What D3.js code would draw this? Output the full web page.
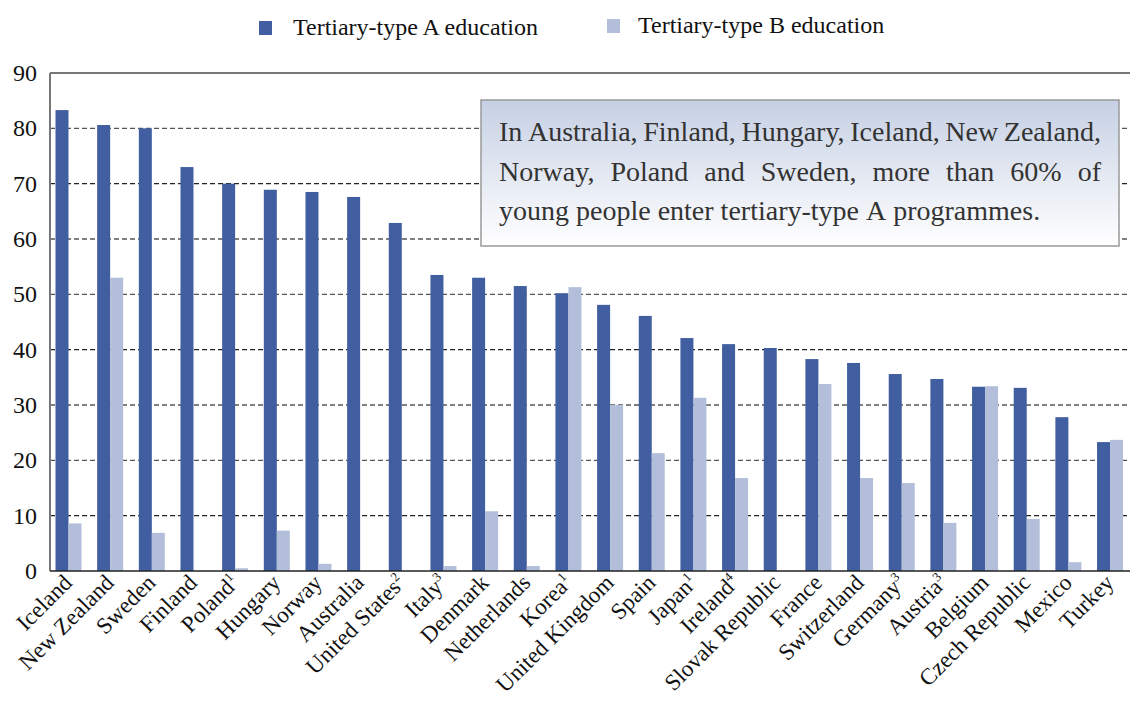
<!DOCTYPE html>
<html>
<head>
<meta charset="utf-8">
<script src="https://cdn.jsdelivr.net/npm/d3@7"></script>
<style>
  body { margin: 0; background: #fff; }
  svg { display: block; }
  text { font-family: "Liberation Serif", "DejaVu Serif", serif; fill: #111; }
</style>
</head>
<body>
<div id="chart"></div>
<script>
// data
var countries = ["Iceland", "New Zealand", "Sweden", "Finland", "Poland", "Hungary", "Norway",
  "Australia", "United States", "Italy", "Denmark", "Netherlands", "Korea", "United Kingdom",
  "Spain", "Japan", "Ireland", "Slovak Republic", "France", "Switzerland", "Germany",
  "Austria", "Belgium", "Czech Republic", "Mexico", "Turkey"];
var notes = ["", "", "", "", "1", "", "", "", "2", "3", "", "", "1", "", "", "1", "4", "", "", "", "3", "3", "", "", "", ""];
var typeA = [83.3, 80.6, 80.0, 73.0, 70.0, 68.9, 68.5, 67.6, 62.9, 53.5, 53.0, 51.5, 50.2, 48.1,
  46.1, 42.1, 41.0, 40.3, 38.3, 37.6, 35.6, 34.7, 33.3, 33.1, 27.8, 23.3];
var typeB = [8.6, 53.0, 6.9, null, 0.5, 7.3, 1.3, null, null, 0.9, 10.8, 0.9, 51.3, 30.0,
  21.3, 31.3, 16.8, null, 33.8, 16.8, 15.9, 8.7, 33.4, 9.4, 1.6, 23.7];
var seriesNames = ["Tertiary-type A education", "Tertiary-type B education"];
var yTicks = [0, 10, 20, 30, 40, 50, 60, 70, 80, 90];
var noteLines = [
  "In Australia, Finland, Hungary, Iceland, New Zealand,",
  "Norway, Poland and Sweden, more than 60% of",
  "young people enter tertiary-type A programmes."
];

var colA = "#415ea0", colB = "#b3bfda";
var width = 1130, height = 701;
var plotLeft = 50, plotTop = 73, plotBottom = 571;

var svg = d3.select("#chart").append("svg")
  .attr("width", width).attr("height", height);

var y = d3.scaleLinear().domain([0, 90]).range([plotBottom, plotTop]);
var x0 = d3.scaleBand().domain(countries).range([45.5, 1128.7]);
var x1 = d3.scaleBand().domain(["A", "B"]).range([10, 36]);

// grid
svg.append("g").selectAll("line")
  .data(yTicks.filter(function(d) { return d > 0 && d < 90; }))
  .enter().append("line")
  .attr("x1", plotLeft).attr("x2", width)
  .attr("y1", function(d) { return y(d); }).attr("y2", function(d) { return y(d); })
  .attr("stroke", function(d) { return d % 30 === 10 ? "#222" : "#555"; })
  .attr("stroke-width", 1.3)
  .attr("stroke-dasharray", "5,3");

// frame
svg.append("line").attr("x1", plotLeft).attr("x2", width).attr("y1", y(90)).attr("y2", y(90))
  .attr("stroke", "#777").attr("stroke-width", 2);
svg.append("line").attr("x1", plotLeft).attr("x2", plotLeft).attr("y1", y(90)).attr("y2", plotBottom)
  .attr("stroke", "#777").attr("stroke-width", 2);

// y tick labels
svg.append("g").selectAll("text").data(yTicks).enter().append("text")
  .attr("x", 37).attr("y", function(d) { return y(d) + 8; })
  .attr("text-anchor", "end")
  .style("font-size", "24px")
  .text(function(d) { return d; });

// bars
var groups = svg.append("g").selectAll("g").data(countries).enter().append("g")
  .attr("transform", function(d) { return "translate(" + x0(d) + ",0)"; });

groups.append("rect")
  .attr("x", x1("A")).attr("width", 13)
  .attr("y", function(d, i) { return y(typeA[i]); })
  .attr("height", function(d, i) { return plotBottom - y(typeA[i]); })
  .attr("fill", colA);

groups.filter(function(d, i) { return typeB[i] != null; }).append("rect")
  .attr("x", x1("B")).attr("width", 13)
  .attr("y", function(d) { return y(typeB[countries.indexOf(d)]); })
  .attr("height", function(d) { return plotBottom - y(typeB[countries.indexOf(d)]); })
  .attr("fill", colB);

// x axis line
svg.append("line").attr("x1", plotLeft).attr("x2", width).attr("y1", plotBottom).attr("y2", plotBottom)
  .attr("stroke", "#222").attr("stroke-width", 1.5);

// x labels
var lab = svg.append("g").selectAll("text").data(countries).enter().append("text")
  .attr("transform", function(d) {
    return "translate(" + (x0(d) + 28) + "," + (plotBottom + 13) + ") rotate(-45)";
  })
  .attr("text-anchor", "end")
  .style("font-size", "23px");
lab.append("tspan").text(function(d) { return d; });
lab.filter(function(d, i) { return notes[i] !== ""; }).append("tspan")
  .attr("dy", -9).style("font-size", "13px")
  .text(function(d) { return notes[countries.indexOf(d)]; });

// legend
var legend = svg.append("g");
[[259, 21, colA, 293, 35], [607, 19, colB, 638, 33]].forEach(function(p, i) {
  legend.append("rect").attr("x", p[0]).attr("y", p[1]).attr("width", 13).attr("height", 14).attr("fill", p[2]);
  legend.append("text").attr("x", p[3]).attr("y", p[4]).style("font-size", "24px").text(seriesNames[i]);
});

// annotation box
var defs = svg.append("defs");
var grad = defs.append("linearGradient").attr("id", "boxgrad")
  .attr("x1", 0).attr("x2", 0).attr("y1", 0).attr("y2", 1);
grad.append("stop").attr("offset", "0%").attr("stop-color", "#c6d0e4");
grad.append("stop").attr("offset", "100%").attr("stop-color", "#ffffff");

var bx = 481, by = 100, bw = 638, bh = 146;
svg.append("rect").attr("x", bx).attr("y", by).attr("width", bw).attr("height", bh)
  .attr("fill", "url(#boxgrad)").attr("stroke", "#999").attr("stroke-width", 1.5);

var tx = 499, tRight = 1101;
noteLines.forEach(function(line, li) {
  var baseY = 141 + li * 39.5;
  var words = line.split(" ");
  var g = svg.append("g");
  var ws = words.map(function(w) {
    return g.append("text").attr("y", baseY).style("font-size", "28px").style("fill", "#333").text(w);
  });
  var widths = ws.map(function(t) { return t.node().getComputedTextLength(); });
  var total = d3.sum(widths);
  var gap = li < noteLines.length - 1 ? (tRight - tx - total) / (words.length - 1) : 7;
  var cx = tx;
  ws.forEach(function(t, i) {
    t.attr("x", cx);
    cx += widths[i] + gap;
  });
});
</script>
</body>
</html>
